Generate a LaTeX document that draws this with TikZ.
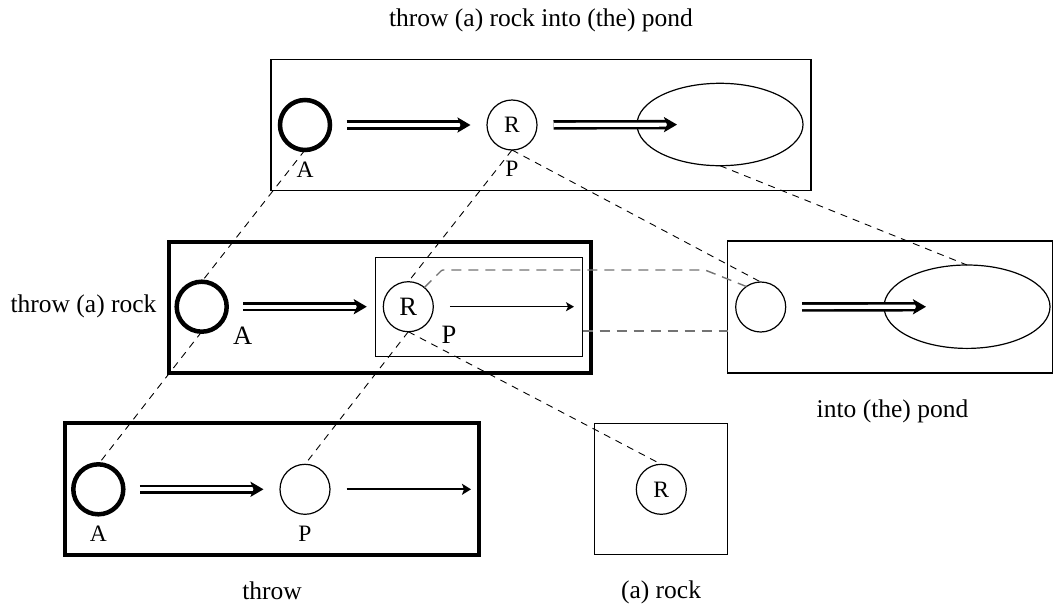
\documentclass[tikz,border=0pt]{standalone}
\usepackage{fontspec}
\setmainfont{Liberation Serif}
\usetikzlibrary{arrows.meta,calc,shapes.geometric}

\begin{document}
\begin{tikzpicture}[x=1pt,y=-1pt,
  box/.style={draw, line width=1.2pt, inner sep=0pt, outer sep=0pt},
  heavybox/.style={draw, line width=4pt, inner sep=0pt, outer sep=0pt},
  role/.style={circle, draw, line width=1.2pt, fill=white, inner sep=0pt, outer sep=0pt, minimum size=50pt, font=\fontsize{23.5}{27}\selectfont},
  agent/.style={role, line width=4.5pt},
  goal/.style={ellipse, draw, line width=1.2pt, inner sep=0pt, outer sep=0pt, minimum width=166pt, minimum height=83pt},
  caption/.style={anchor=base, inner sep=0pt, font=\fontsize{25.5}{30}\selectfont},
  tag/.style={anchor=base, inner sep=0pt, font=\fontsize{23.5}{27}\selectfont},
  bigtag/.style={anchor=base, inner sep=0pt, font=\fontsize{26.5}{31}\selectfont},
  dblarrow/.style={double, line width=2.6pt, double distance=4.2pt,
    -{Stealth[length=13pt, width=15pt, inset=3pt]}, shorten <=16.5pt, shorten >=16.5pt},
  onearrow/.style={line width=1.5pt, -{Stealth[length=8pt, width=9pt, inset=2pt]}, shorten <=16.5pt},
  link/.style={draw, line width=0.9pt, dash pattern=on 7pt off 6pt},
  graylink/.style={draw, line width=1.4pt, color=black!55, dash pattern=on 10pt off 7pt}]
\useasboundingbox (0,0) rectangle (1056,608);

% frames
\node[box, minimum width=540pt, minimum height=131.2pt] (topbox) at (541,124.9) {};
\node[heavybox, minimum width=422pt, minimum height=131pt] (midbox) at (380,307.5) {};
\node[box, minimum width=207pt, minimum height=99.4pt] (inner) at (479.2,307) {};
\node[box, minimum width=325pt, minimum height=132pt] (pondbox) at (890,307) {};
\node[heavybox, minimum width=414.5pt, minimum height=131.7pt] (throwbox) at (272.2,489) {};
\node[box, minimum width=132.3pt, minimum height=131.7pt] (rockbox) at (661,489) {};

% captions
\node[caption] (t1) at (541,26.5) {throw (a) rock into (the) pond};
\node[caption] (t2) at (83.5,312) {throw (a) rock};
\node[caption] (t3) at (892.5,417) {into (the) pond};
\node[caption] (t4) at (272,599) {throw};
\node[caption] (t5) at (661,598) {(a) rock};

% top row
\node[agent] (tA) at (305,125) {};
\node[role] (tR) at (512,125) {R};
\node[goal, minimum height=82.4pt] (tE) at (720,124.5) {};
\node[tag] (tAl) at (305,177) {A};
\node[tag] (tPl) at (512,176.7) {P};

% middle row
\node[agent] (mA) at (201.7,306.7) {};
\node[role, font=\fontsize{26.5}{31}\selectfont] (mR) at (408.3,306.7) {R};
\node[bigtag] (mAl) at (242.7,344) {A};
\node[bigtag] (mPl) at (449,343) {P};
\coordinate (mEnd) at (574,306.7);

% right row
\node[role] (rC) at (760.7,307) {};
\node[goal, minimum height=83.4pt] (rE) at (967,306.7) {};

% bottom row
\node[agent] (bA) at (98.3,489.3) {};
\node[role] (bP) at (305,489.3) {};
\node[tag] (bAl) at (98.3,541.7) {A};
\node[tag] (bPl) at (305,541.7) {P};
\coordinate (bEnd) at (471,489.3);
\node[role] (kR) at (661.3,489.3) {R};

% arrows
\draw[dblarrow] (tA) -- (tR);
\draw[dblarrow, shorten >=43pt] (tR) -- (tE.center);
\draw[dblarrow] (mA) -- (mR);
\draw[onearrow] (mR) -- (mEnd);
\draw[dblarrow, shorten >=41pt] (rC) -- (rE.center);
\draw[dblarrow] (bA) -- (bP);
\draw[onearrow, line width=2pt, -{Stealth[length=9pt, width=11pt, inset=2pt]}] (bP) -- (bEnd);

% correspondences
\draw[link] (tA.south) -- (mA.north);
\draw[link] (mA.south) -- (bA.north);
\draw[link] (tR.south) -- (mR.north);
\draw[link] (mR.south) -- (bP.north);
\draw[link] (tR.south) -- (rC.north);
\draw[link] (mR.south) -- (kR.north);
\draw[link] (tE.south) -- (rE.north);
\coordinate (g1) at (442,270);
\coordinate (g2) at (705,270);
\draw[graylink, rounded corners=1pt] (mR.50) -- (g1) -- (g2) [rounded corners=5pt] -- (rC.125);
\draw[graylink] ($(inner.east)+(0,24)$) -- ($(pondbox.west)+(0,24)$);
\end{tikzpicture}
\end{document}
